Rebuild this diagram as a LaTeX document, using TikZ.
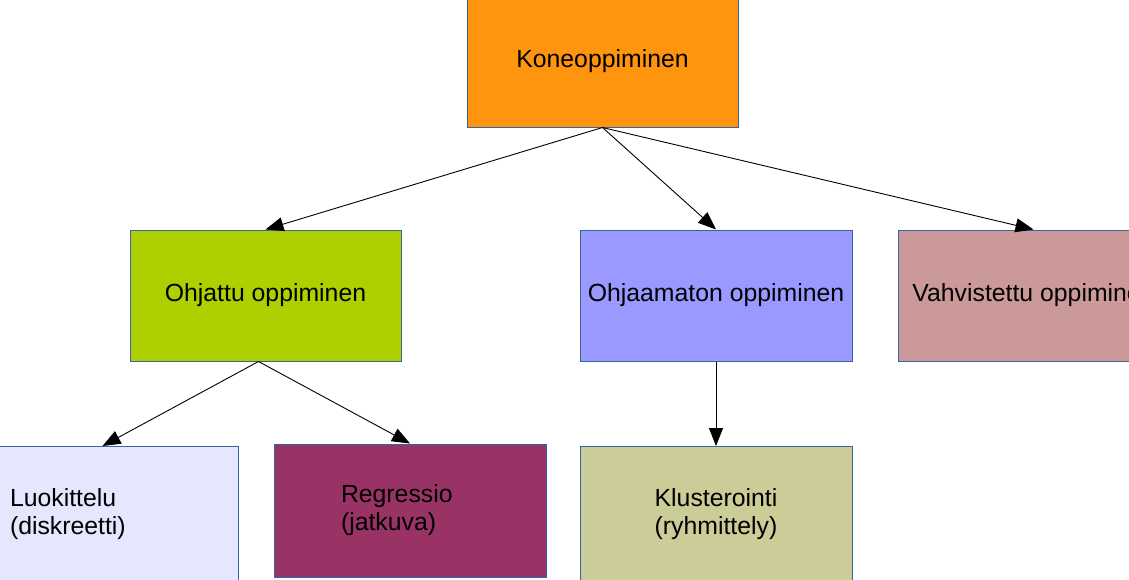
\documentclass[tikz,border=0pt]{standalone}
\usepackage{fontspec}
\setmainfont{Liberation Sans}
\usetikzlibrary{arrows.meta}
\definecolor{konecol}{RGB}{255,149,14}
\definecolor{ohjattucol}{RGB}{174,207,0}
\definecolor{ohjaamatoncol}{RGB}{153,153,255}
\definecolor{vahvistettucol}{RGB}{204,153,153}
\definecolor{luokittelucol}{RGB}{230,230,255}
\definecolor{regressiocol}{RGB}{153,51,102}
\definecolor{klusterointicol}{RGB}{204,204,153}
\definecolor{edgecol}{RGB}{52,101,164}
\tikzstyle{category}=[draw=edgecol, line width=1pt, minimum width=271pt, minimum height=131pt, font=\fontsize{24.8}{28}\selectfont]
\tikzstyle{leaf}=[category, minimum height=133pt]
\tikzstyle{link}=[line width=0.9pt, -{Triangle[length=18pt, width=14pt]}]

\begin{document}
\begin{tikzpicture}[x=1pt, y=-1pt]
      \useasboundingbox (0, 0) rectangle (1129, 579);
      \clip (0, 0) rectangle (1129, 579);
      \node[category, fill=konecol] (kone) at (602.5, 61.5) {Koneoppiminen};
      \node[category, fill=ohjattucol] (ohjattu) at (265.5, 295.5) {Ohjattu oppiminen};
      \node[category, fill=ohjaamatoncol, minimum width=272pt] (ohjaamaton) at (716, 295.5) {Ohjaamaton oppiminen};
      \node[category, fill=vahvistettucol] (vahvistettu) at (1033.5, 295.5) {Vahvistettu oppiminen};
      \node[leaf, fill=luokittelucol, minimum height=136pt, inner xsep=43pt, text width=185pt, align=left] (luokittelu) at (102.5, 514.5) {Luokittelu\\(diskreetti)};
      \node[leaf, fill=regressiocol, inner xsep=67pt, text width=138pt, align=left] (regressio) at (410, 510.5) {Regressio\\(jatkuva)};
      \node[leaf, fill=klusterointicol, minimum width=272pt, minimum height=136pt, align=center] (klusterointi) at (716, 514.5) {Klusterointi\\(ryhmittely)};
      \coordinate (ohjattu out) at ([xshift=-7pt]ohjattu.south);
      \draw[link] (kone.south) to (ohjattu.north);
      \draw[link] (kone.south) to (ohjaamaton.north);
      \draw[link] (kone.south) to (vahvistettu.north);
      \draw[link] (ohjattu out) to (luokittelu.north);
      \draw[link] (ohjattu out) to (regressio.north);
      \draw[link] (ohjaamaton.south) to (klusterointi.north);
    \end{tikzpicture}
\end{document}
